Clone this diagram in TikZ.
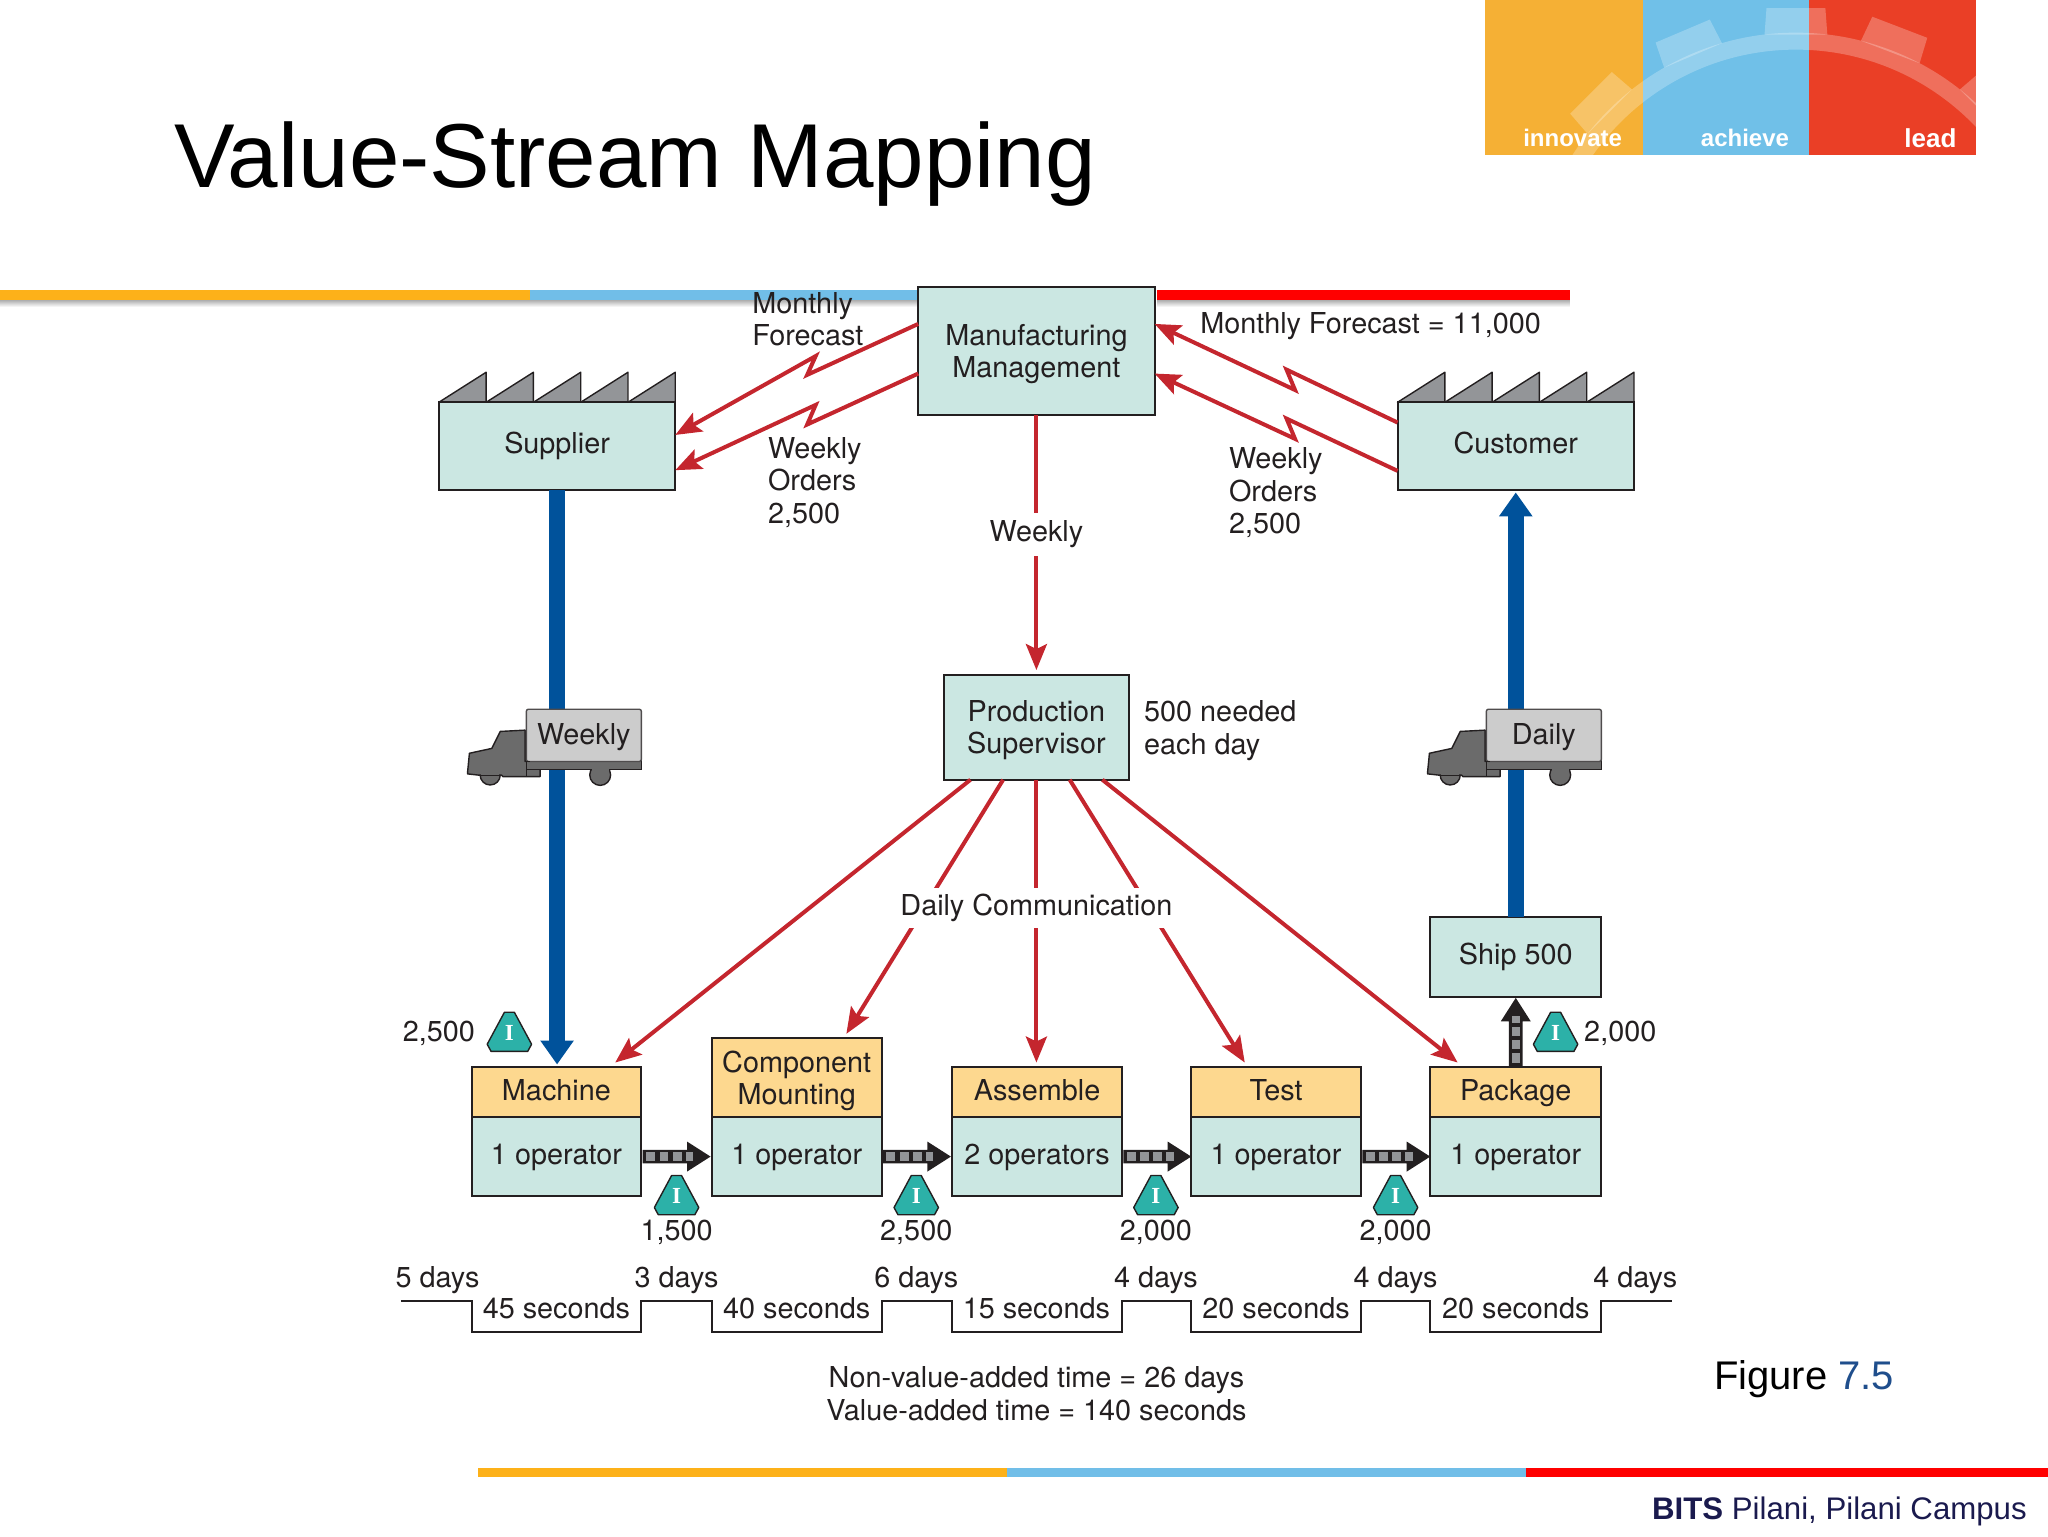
\documentclass[tikz,border=0pt]{standalone}
\usepackage{fontspec}
\setmainfont{TeX Gyre Heros}
\newfontfamily\libsans{Liberation Sans}
\newfontfamily\libserif{Liberation Serif}
\usetikzlibrary{arrows.meta}
\definecolor{boxteal}{HTML}{CBE7E2}
\definecolor{boxorange}{HTML}{FDD88F}
\definecolor{ink}{HTML}{231F20}
\definecolor{toothgray}{HTML}{939598}
\definecolor{redline}{HTML}{C4262E}
\definecolor{flowblue}{HTML}{00529B}
\definecolor{invteal}{HTML}{2CB1A8}
\definecolor{lgorange}{HTML}{F5B035}
\definecolor{lgblue}{HTML}{70C0E8}
\definecolor{lgred}{HTML}{EA3F26}
\definecolor{stripeorange}{HTML}{FDB119}
\definecolor{stripeblue}{HTML}{71BEE8}
\definecolor{navy}{HTML}{1A1A4E}
\definecolor{figblue}{HTML}{1F4E8C}
\def\u{0.65306pt}
\newcommand{\mybox}[7]{%
  \pgfmathsetmacro\bw{(#4-#2)*0.65306}%
  \pgfmathsetmacro\bh{(#5-#3)*0.65306}%
  \node[#6,minimum width=\bw pt,minimum height=\bh pt] (#1) at ({(#2+#4)/2},{(#3+#5)/2}) {#7};}
\tikzset{
  dia/.style={font=\fontsize{14.4}{16.3}\selectfont,text=ink,align=center,inner sep=0pt,outer sep=0pt,
    execute at begin node=\vphantom{Ag},execute at end node=\vphantom{Ag}},
  lowhalf/.style={execute at begin node=\rule{0pt}{11.2pt}\vphantom{Ag}},
  lowone/.style={execute at begin node=\rule{0pt}{11.8pt}\vphantom{Ag}},
  lbl/.style={dia,align=left,anchor=west},
  tealbox/.style={dia,draw=ink,line width=1pt,fill=boxteal},
  orangebox/.style={dia,draw=ink,line width=1pt,fill=boxorange},
  redarrow/.style={draw=redline,line width=2pt,line join=miter,miter limit=6,-{Stealth[length=13pt,width=10.5pt,inset=2.5pt]}},
  bluearrow/.style={draw=flowblue,line width=8pt,-{Triangle[length=12pt,width=16pt]}},
  tooth/.style={fill=toothgray,draw=ink,line width=.7pt,line join=round},
  factory/.pic={
    \foreach \a in {0,36.2,72.4,108.6,144.8}
      \draw[tooth] (\a,0) -- (\a+36.2,-23) -- (\a+36.2,0) -- cycle;
  },
  pusharrow/.pic={
    \fill[ink] (1,-5.2) -- (35,-5.2) -- (35,-11.5) -- (53,0) -- (35,11.5) -- (35,5.2) -- (1,5.2) -- cycle;
    \foreach \a/\b in {3.5/10.5,14/20.8,24/31,34/39.5}
      \fill[toothgray] (\a,-3.2) rectangle (\b,3.2);
  },
  inv/.pic={
    \fill[invteal,draw=ink,line width=.7pt,line join=round] (-3.8,0) -- (3.8,0) -- (17,24.5) -- (14,30) -- (-14,30) -- (-17,24.5) -- cycle;
    \node[font=\libserif\bfseries\fontsize{11.5}{11.5}\selectfont,text=white,inner sep=0pt] (-l) at (0,15.5) {I};
  },
  truck/.pic={
    \draw[fill=black!58,draw=ink,line width=.7pt] (-27.7,50.3) circle [radius=7.7];
    \draw[fill=black!58,draw=ink,line width=.7pt] (56.5,50.3) circle [radius=8];
    \draw[fill=black!58,draw=ink,line width=.7pt,line join=round] (-45,48) -- (-43.6,33.7) -- (-26.5,30) -- (-20,17) -- (-1,16) -- (-1,40) -- (10.5,40) -- (10.5,51.6) -- (-18,51.6) -- (-19,50.5) -- (-36,50.5) -- (-45,49.5) -- cycle;
    \draw[fill=black!58,draw=ink,line width=.7pt] (0,39) rectangle (88,46);
    \fill[black!58] (-27.7-7,45) rectangle (-27.7+7,50.5);
    \fill[black!58] (56.5-6.5,43) rectangle (56.5+6.5,50.5);
    \draw[fill=black!20,draw=ink!80,line width=.7pt,rounded corners=1pt] (0,0) rectangle (88,40);
    \draw[ink,line width=.8pt] (0,40) -- (3,40) (0,44) -- (0,51);
  },
}
\begin{document}
\begin{tikzpicture}[x=\u,y=-\u]
\useasboundingbox (0,0) rectangle (1568,1176);
% logo
\fill[lgorange] (1137,0) rectangle (1258,119);
\fill[lgblue] (1258,0) rectangle (1385,119);
\fill[lgred] (1385,0) rectangle (1513,119);
\begin{scope}
  \clip (1137,0) rectangle (1513,119);
  \fill[white,opacity=.25,even odd rule] (1375,228) circle [radius=203] (1375,228) circle [radius=190];
  \begin{scope}[shift={(1375,228)}]
    \foreach \a in {-135,-113,-90,-69,-45}
      \fill[white,opacity=.25] (\a-6.8:203) -- (\a-5.8:223) -- (\a+5.8:223) -- (\a+6.8:203) -- cycle;
  \end{scope}
\end{scope}
\node[font=\libsans\bfseries\fontsize{12}{12}\selectfont,text=white,inner sep=0pt] (lgi) at (1204,105.5) {innovate};
\node[font=\libsans\bfseries\fontsize{12}{12}\selectfont,text=white,inner sep=0pt] (lga) at (1336,105.5) {achieve};
\node[font=\libsans\bfseries\fontsize{13}{13}\selectfont,text=white,inner sep=0pt] (lgl) at (1478,105.5) {lead};
% title
\node[font=\libsans\fontsize{45.4}{45.4}\selectfont,text=black,anchor=base west,inner sep=0pt] (title) at (133,143.5) {Value-Stream Mapping};
% stripes
\shade[top color=black!30,bottom color=white] (0,230) rectangle (702,235);
\shade[top color=black!30,bottom color=white] (886,230) rectangle (1202,235);
\fill[stripeorange] (0,222) rectangle (406,230);
\fill[stripeblue] (406,222) rectangle (702,230);
\fill[red] (886,222) rectangle (1202,230);
\fill[stripeorange] (366,1124) rectangle (771,1131);
\fill[stripeblue] (771,1124) rectangle (1168,1131);
\fill[red] (1168,1124) rectangle (1568,1131);
% footer
\node[font=\libsans\fontsize{15.6}{15.6}\selectfont,text=navy,anchor=base east,inner sep=0pt] (foot) at (1552,1163) {\textbf{BITS} Pilani, Pilani Campus};
\node[font=\libsans\fontsize{20}{20}\selectfont,text=black,anchor=base west,inner sep=0pt] (fig) at (1312,1064) {Figure \textcolor{figblue}{7.5}};
% factories
\path (336,308) pic {factory};
\path (1070,308) pic {factory};
% boxes
\mybox{mm}{703}{220}{884}{318}{tealbox}{}
\node[dia] (mmt) at (793.5,271) {Manufacturing\\Management};
\mybox{sup}{336}{308}{517}{375}{tealbox}{Supplier}
\mybox{cus}{1070}{308}{1251}{375}{tealbox}{Customer}
\mybox{prod}{723}{517}{864}{597}{tealbox}{}
\node[dia] (prodt) at (793.5,559) {Production\\Supervisor};
\mybox{ship}{1095}{702}{1226}{763}{tealbox}{Ship 500}
\mybox{macb}{361}{855}{491}{916}{tealbox,lowhalf}{1 operator}
\mybox{comb}{545}{855}{675}{916}{tealbox,lowhalf}{1 operator}
\mybox{assb}{729}{855}{859}{916}{tealbox,lowhalf}{2 operators}
\mybox{tesb}{912}{855}{1042}{916}{tealbox,lowhalf}{1 operator}
\mybox{pacb}{1095}{855}{1226}{916}{tealbox,lowhalf}{1 operator}
\mybox{mac}{361}{817}{491}{855}{orangebox,lowone}{Machine}
\mybox{com}{545}{795}{675}{855}{orangebox}{}
\node[dia] (comt) at (610,827.5) {Component\\Mounting};
\mybox{ass}{729}{817}{859}{855}{orangebox,lowone}{Assemble}
\mybox{tes}{912}{817}{1042}{855}{orangebox,lowone}{Test}
\mybox{pac}{1095}{817}{1226}{855}{orangebox,lowone}{Package}
% blue flows
\draw[bluearrow,shorten >=2*\u] (sup.south) -- (sup.south |- mac.north);
\draw[bluearrow,shorten >=2*\u] (ship.north) -- (cus.south);
% trucks
\path (403,543) pic (tr1) {truck};
\path (1138,543) pic (tr2) {truck};
\node[dia] (wk) at (447,564) {Weekly};
\node[dia] (dl) at (1182,564) {Daily};
% lightning arrows
\draw[redarrow] ([yshift=21*\u]mm.west) -- (618,287) -- (624.5,272.6) -- ([yshift=8.5*\u]sup.east);
\draw[redarrow] ([yshift=-17*\u]mm.west) -- (618,325) -- (624.5,310) -- ([yshift=-18.5*\u]sup.east);
\draw[redarrow] ([yshift=18*\u]cus.west) -- (985,283) -- (991.5,298.6) -- ([yshift=21*\u]mm.east);
\draw[redarrow] ([yshift=-19*\u]cus.west) -- (985,320.5) -- (991.5,336) -- ([yshift=-17*\u]mm.east);
% straight red arrows
\draw[redarrow] (mm.south) -- ([yshift=4*\u]mm.south |- prod.north);
\draw[redarrow] ([xshift=-50.5*\u]prod.south) -- ([xshift=45*\u,yshift=3.5*\u]mac.north);
\draw[redarrow] ([xshift=-25.5*\u]prod.south) -- ([xshift=38*\u,yshift=3.5*\u]com.north);
\draw[redarrow] (prod.south) -- ([yshift=3.5*\u]prod.south |- ass.north);
\draw[redarrow] ([xshift=25.5*\u]prod.south) -- ([xshift=-24*\u,yshift=3.5*\u]tes.north);
\draw[redarrow] ([xshift=50.5*\u]prod.south) -- ([xshift=-44.5*\u,yshift=3.5*\u]pac.north);
\node[dia,fill=white,inner ysep=3pt,inner xsep=1pt] (dc) at (793.5,695) {Daily Communication};
\node[dia,fill=white,inner ysep=4pt,inner xsep=1pt] (wkly) at (793.5,409) {Weekly};
% push arrows
\path (macb.east) pic {pusharrow};
\path (comb.east) pic {pusharrow};
\path (assb.east) pic {pusharrow};
\path (tesb.east) pic {pusharrow};
\path (pac.north) pic[rotate=90] {pusharrow};
% inventory
\path (390,775) pic (i1) {inv};
\path (518,900) pic (i2) {inv};
\path (701.5,900) pic (i3) {inv};
\path (885,900) pic (i4) {inv};
\path (1068.5,900) pic (i5) {inv};
\path (1191,775) pic (i6) {inv};
\node[dia] (n1) at (336,792) {2,500};
\node[dia] (n2) at (518,944) {1,500};
\node[dia] (n3) at (701.5,944) {2,500};
\node[dia] (n4) at (885,944) {2,000};
\node[dia] (n5) at (1068.5,944) {2,000};
\node[dia] (n6) at (1240.5,792) {2,000};
% side labels
\node[lbl] (l1) at (576,246.5) {Monthly\\Forecast};
\node[lbl] (l2) at (588,370) {Weekly\\Orders\\2,500};
\node[lbl] (l3) at (941,378) {Weekly\\Orders\\2,500};
\node[lbl] (l4) at (919,250) {Monthly Forecast = 11,000};
\node[lbl] (l5) at (876,559.5) {500 needed\\each day};
% timeline
\draw[ink,line width=1pt,line join=miter] (307,996) -- (361,996) -- (361,1020) -- (491,1020) -- (491,996) -- (545,996) -- (545,1020) -- (675,1020) -- (675,996) -- (729,996) -- (729,1020) -- (859,1020) -- (859,996) -- (912,996) -- (912,1020) -- (1042,1020) -- (1042,996) -- (1095,996) -- (1095,1020) -- (1226,1020) -- (1226,996) -- (1280,996);
\node[dia] (d1) at (335,980) {5 days};
\node[dia] (d2) at (518,980) {3 days};
\node[dia] (d3) at (701.5,980) {6 days};
\node[dia] (d4) at (885,980) {4 days};
\node[dia] (d5) at (1068.5,980) {4 days};
\node[dia] (d6) at (1252,980) {4 days};
\node[dia] (s1) at (426,1003.5) {45 seconds};
\node[dia] (s2) at (610,1003.5) {40 seconds};
\node[dia] (s3) at (793.5,1003.5) {15 seconds};
\node[dia] (s4) at (977,1003.5) {20 seconds};
\node[dia] (s5) at (1160.5,1003.5) {20 seconds};
\node[dia] (tot) at (793.5,1069.5) {Non-value-added time = 26 days\\Value-added time = 140 seconds};
\end{tikzpicture}
\end{document}
